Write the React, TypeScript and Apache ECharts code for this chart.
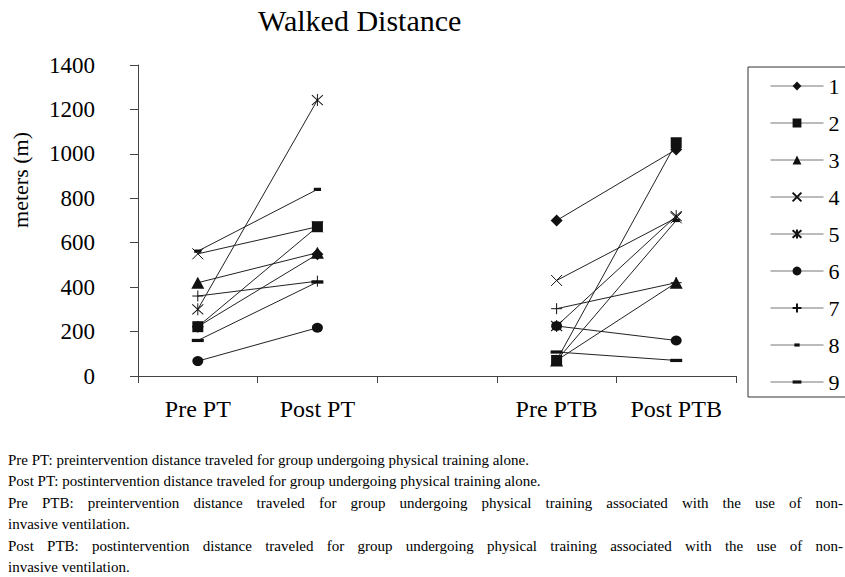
import React, { useEffect, useRef } from "react";
import * as echarts from "echarts";

const categories = ["Pre PT", "Post PT", "", "Pre PTB", "Post PTB"];
const seriesNames = ["1", "2", "3", "4", "5", "6", "7", "8", "9"];
const s1 = [222, 548, null, 700, 1020];
const s2 = [222, 672, null, 70, 1050];
const s3 = [420, 555, null, 70, 420];
const s4 = [550, 672, null, 430, 712];
const s5 = [300, 1242, null, 225, 720];
const s6 = [67, 217, null, 225, 160];
const s7 = [360, 427, null, 303, 420];
const s8 = [562, 840, null, 70, 700];
const s9 = [160, 423, null, 108, 70];
const seriesValues = [s1, s2, s3, s4, s5, s6, s7, s8, s9];
const yTicks = { min: 0, max: 1400, interval: 200 };
const titleText = "Walked Distance";
const yName = "meters (m)";
const notes = [
  "Pre PT: preintervention distance traveled for group undergoing physical training alone.",
  "Post PT: postintervention distance traveled for group undergoing physical training alone.",
  "Pre PTB: preintervention distance traveled for group undergoing physical training associated with the use of non-",
  "invasive ventilation.",
  "Post PTB: postintervention distance traveled for group undergoing physical training associated with the use of non-",
  "invasive ventilation.",
];
const justifiedNotes = [false, false, true, false, true, false];

const FONT = "Liberation Serif";
const NOTE_FONT = `15px "${FONT}", serif`;

const symbols: any[] = [
  { symbol: "diamond", size: [12, 12], stroke: false },
  { symbol: "rect", size: [11, 11], stroke: false },
  { symbol: "triangle", size: [13, 12], stroke: false },
  { symbol: "path://M0,0L10,10M10,0L0,10", size: [11, 11], stroke: true },
  { symbol: "path://M0,0L10,10M10,0L0,10M5,-1L5,11", size: [11, 12], stroke: true },
  { symbol: "circle", size: [11, 10], stroke: false },
  { symbol: "path://M5,0L5,10M0,5L10,5", size: [11, 11], stroke: true },
  { symbol: "path://M0,0M10,10M2,3.2L8,3.2L8,6.8L2,6.8Z", size: [12, 9], stroke: false },
  { symbol: "path://M0,0M10,10M0,3.2L10,3.2L10,6.8L0,6.8Z", size: [12, 9], stroke: false },
];

export default function App() {
  const ref = useRef<HTMLDivElement>(null);
  useEffect(() => {
    if (!ref.current) return;
    const chart = echarts.init(ref.current, null, { renderer: "svg" });
    const canvas = document.createElement("canvas");
    const ctx = canvas.getContext("2d") as CanvasRenderingContext2D;
    ctx.font = NOTE_FONT;
    const series = seriesValues.map((vals, i) => ({
      name: seriesNames[i],
      type: "line",
      data: vals,
      connectNulls: false,
      symbol: symbols[i].symbol,
      symbolSize: symbols[i].size,
      showAllSymbol: true,
      lineStyle: { color: "#222", width: 1 },
      itemStyle: {
        color: "#111",
        borderColor: "#111",
        borderWidth: symbols[i].stroke ? 1 : 0,
      },
      emphasis: { disabled: true },
    }));
    const noteGraphics: any[] = [];
    const lineRight = 843;
    notes.forEach((t, i) => {
      const top = 452 + i * 21.5;
      if (!justifiedNotes[i]) {
        noteGraphics.push({
          type: "text",
          left: 8,
          top,
          style: { text: t, font: NOTE_FONT, fill: "#000" },
        });
        return;
      }
      const words = t.split(" ");
      const widths = words.map((w) => ctx.measureText(w).width);
      const total = widths.reduce((a, b) => a + b, 0);
      const gap = (lineRight - 8 - total) / (words.length - 1);
      let x = 8;
      words.forEach((w, k) => {
        noteGraphics.push({
          type: "text",
          x,
          y: top,
          style: { text: w, font: NOTE_FONT, fill: "#000" },
        });
        x += widths[k] + gap;
      });
    });
    chart.setOption({
      animation: false,
      backgroundColor: "#fff",
      grid: { left: 138, right: 109, top: 65, bottom: 201, containLabel: false },
      xAxis: {
        type: "category",
        data: categories,
        boundaryGap: true,
        axisLine: { lineStyle: { color: "#444", width: 1 } },
        axisTick: { show: true, length: 7, lineStyle: { color: "#444" } },
        axisLabel: { fontSize: 24, fontFamily: FONT, color: "#000", margin: 21 },
        splitLine: { show: false },
      },
      yAxis: {
        type: "value",
        min: yTicks.min,
        max: yTicks.max,
        interval: yTicks.interval,
        axisLine: { show: true, lineStyle: { color: "#444", width: 1 } },
        axisTick: { show: true, length: 8, lineStyle: { color: "#444" } },
        axisLabel: {
          fontSize: 23,
          fontFamily: FONT,
          color: "#000",
          margin: 43,
          formatter: (v: number) => String(v),
        },
        splitLine: { show: false },
      },
      legend: {
        orient: "vertical",
        left: 748,
        top: 67,
        padding: [8, 30, 4, 22],
        itemWidth: 53,
        itemHeight: 11,
        itemGap: 15,
        borderColor: "#333",
        borderWidth: 1,
        lineStyle: { color: "#777", width: 1 },
        textStyle: { fontSize: 22, fontFamily: FONT, color: "#000" },
        data: seriesNames,
      },
      graphic: [
        {
          type: "text",
          left: 258,
          top: 5,
          style: { text: titleText, font: `30px "${FONT}", serif`, fill: "#000" },
        },
        {
          type: "text",
          x: 20,
          y: 180,
          rotation: Math.PI / 2,
          style: {
            text: yName,
            font: `22px "${FONT}", serif`,
            fill: "#000",
            textAlign: "center",
            textVerticalAlign: "middle",
          },
        },
        ...noteGraphics,
      ],
      series,
    });
    return () => chart.dispose();
  }, []);
  return (
    <div
      ref={ref}
      style={{ position: "absolute", left: 0, top: 0, width: 845, height: 577 }}
    />
  );
}
